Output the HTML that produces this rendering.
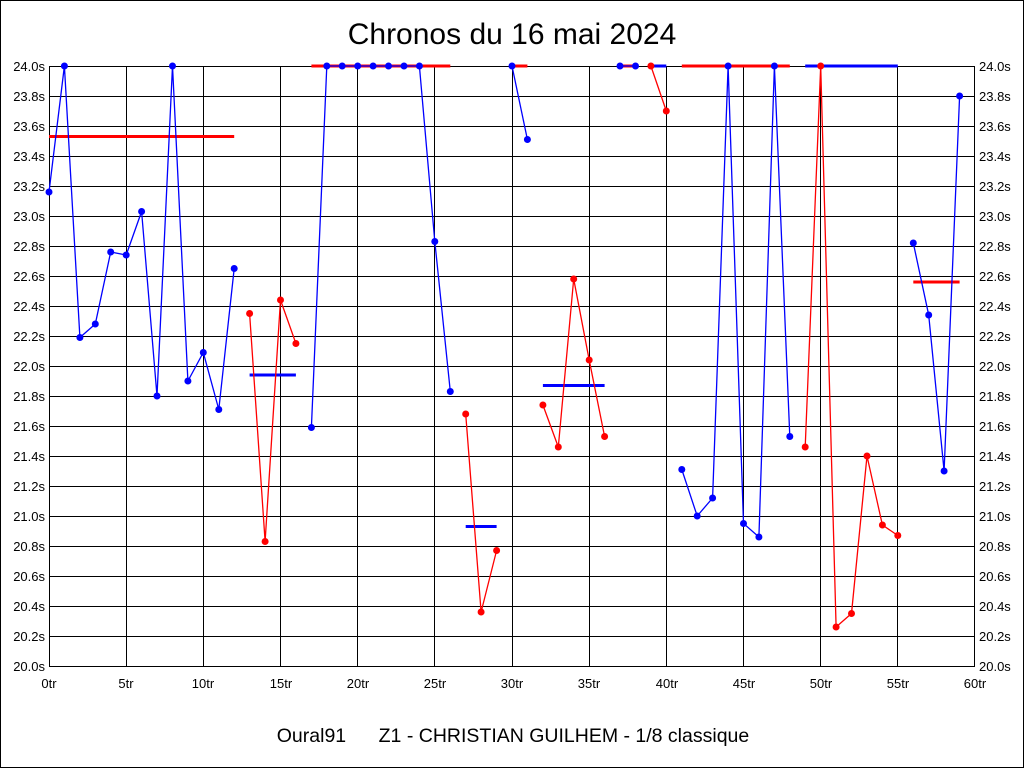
<!DOCTYPE html>
<html><head><meta charset="utf-8"><style>
html,body{margin:0;padding:0;background:#fff}
svg{display:block}
text{font-family:"Liberation Sans",sans-serif;fill:#000}
</style></head><body>
<svg width="1024" height="768" viewBox="0 0 1024 768">
<rect x="0.5" y="0.5" width="1023" height="767" fill="#fff" stroke="#000"/>
<text x="512" y="44" font-size="30" text-anchor="middle">Chronos du 16 mai 2024</text>
<g stroke="#000" stroke-width="1">
<path d="M49 96.5H975M49 126.5H975M49 156.5H975M49 186.5H975M49 216.5H975M49 246.5H975M49 276.5H975M49 306.5H975M49 336.5H975M49 366.5H975M49 396.5H975M49 426.5H975M49 456.5H975M49 486.5H975M49 516.5H975M49 546.5H975M49 576.5H975M49 606.5H975M49 636.5H975"/>
<path d="M126.5 66V666M203.5 66V666M280.5 66V666M357.5 66V666M434.5 66V666M512.5 66V666M589.5 66V666M666.5 66V666M743.5 66V666M820.5 66V666M897.5 66V666"/>
<rect x="49.5" y="66.5" width="925" height="600" fill="none"/>
</g>
<g font-size="13" text-anchor="end">
<text x="45" y="71">24.0s</text><text x="45" y="101">23.8s</text><text x="45" y="131">23.6s</text><text x="45" y="161">23.4s</text><text x="45" y="191">23.2s</text><text x="45" y="221">23.0s</text><text x="45" y="251">22.8s</text><text x="45" y="281">22.6s</text><text x="45" y="311">22.4s</text><text x="45" y="341">22.2s</text><text x="45" y="371">22.0s</text><text x="45" y="401">21.8s</text><text x="45" y="431">21.6s</text><text x="45" y="461">21.4s</text><text x="45" y="491">21.2s</text><text x="45" y="521">21.0s</text><text x="45" y="551">20.8s</text><text x="45" y="581">20.6s</text><text x="45" y="611">20.4s</text><text x="45" y="641">20.2s</text><text x="45" y="671">20.0s</text>
</g>
<g font-size="13" text-anchor="start">
<text x="979" y="71">24.0s</text><text x="979" y="101">23.8s</text><text x="979" y="131">23.6s</text><text x="979" y="161">23.4s</text><text x="979" y="191">23.2s</text><text x="979" y="221">23.0s</text><text x="979" y="251">22.8s</text><text x="979" y="281">22.6s</text><text x="979" y="311">22.4s</text><text x="979" y="341">22.2s</text><text x="979" y="371">22.0s</text><text x="979" y="401">21.8s</text><text x="979" y="431">21.6s</text><text x="979" y="461">21.4s</text><text x="979" y="491">21.2s</text><text x="979" y="521">21.0s</text><text x="979" y="551">20.8s</text><text x="979" y="581">20.6s</text><text x="979" y="611">20.4s</text><text x="979" y="641">20.2s</text><text x="979" y="671">20.0s</text>
</g>
<g font-size="13" text-anchor="middle">
<text x="49" y="688">0tr</text><text x="126" y="688">5tr</text><text x="203" y="688">10tr</text><text x="281" y="688">15tr</text><text x="358" y="688">20tr</text><text x="435" y="688">25tr</text><text x="512" y="688">30tr</text><text x="589" y="688">35tr</text><text x="667" y="688">40tr</text><text x="744" y="688">45tr</text><text x="821" y="688">50tr</text><text x="898" y="688">55tr</text><text x="975" y="688">60tr</text>
</g>
<text x="513" y="742" font-size="19.5" text-anchor="middle" xml:space="preserve">Oural91      Z1 - CHRISTIAN GUILHEM - 1/8 classique</text>
<g stroke-width="3">
<path stroke="#f00" d="M49 136.5H234.2"/>
<path stroke="#00f" d="M249.6 375H295.9"/>
<path stroke="#f00" d="M311.4 66H450.3"/>
<path stroke="#00f" d="M465.7 526.5H496.6"/>
<path stroke="#f00" d="M512 66H527.4"/>
<path stroke="#00f" d="M542.9 385.5H604.6"/>
<path stroke="#f00" d="M620 66H635.5"/>
<path stroke="#00f" d="M650.9 66H666.3"/>
<path stroke="#f00" d="M681.8 66H789.8"/>
<path stroke="#00f" d="M805.2 66H897.8"/>
<path stroke="#f00" d="M913.3 282H959.6"/>
</g>
<g fill="none" stroke-width="1.3">
<polyline stroke="#00f" points="49,192 64.4,66 79.9,337.5 95.3,324 110.7,252 126.2,255 141.6,211.5 157,396 172.5,66 187.9,381 203.3,352.5 218.8,409.5 234.2,268.5"/>
<polyline stroke="#f00" points="249.6,313.5 265.1,541.5 280.5,300 295.9,343.5"/>
<polyline stroke="#00f" points="311.4,427.5 326.8,66 342.2,66 357.7,66 373.1,66 388.5,66 404,66 419.4,66 434.8,241.5 450.3,391.5"/>
<polyline stroke="#f00" points="465.7,414 481.1,612 496.6,550.5"/>
<polyline stroke="#00f" points="512,66 527.4,139.5"/>
<polyline stroke="#f00" points="542.9,405 558.3,447 573.7,279 589.2,360 604.6,436.5"/>
<polyline stroke="#00f" points="620,66 635.5,66"/>
<polyline stroke="#f00" points="650.9,66 666.3,111"/>
<polyline stroke="#00f" points="681.8,469.5 697.2,516 712.6,498 728.1,66 743.5,523.5 758.9,537 774.4,66 789.8,436.5"/>
<polyline stroke="#f00" points="805.2,447 820.7,66 836.1,627 851.5,613.5 867,456 882.4,525 897.8,535.5"/>
<polyline stroke="#00f" points="913.3,243 928.7,315 944.1,471 959.6,96"/>
</g>
<g fill="#00f">
<circle cx="49" cy="192" r="3.5"/><circle cx="64.4" cy="66" r="3.5"/><circle cx="79.9" cy="337.5" r="3.5"/><circle cx="95.3" cy="324" r="3.5"/><circle cx="110.7" cy="252" r="3.5"/><circle cx="126.2" cy="255" r="3.5"/><circle cx="141.6" cy="211.5" r="3.5"/><circle cx="157" cy="396" r="3.5"/><circle cx="172.5" cy="66" r="3.5"/><circle cx="187.9" cy="381" r="3.5"/><circle cx="203.3" cy="352.5" r="3.5"/><circle cx="218.8" cy="409.5" r="3.5"/><circle cx="234.2" cy="268.5" r="3.5"/>
<circle cx="311.4" cy="427.5" r="3.5"/><circle cx="326.8" cy="66" r="3.5"/><circle cx="342.2" cy="66" r="3.5"/><circle cx="357.7" cy="66" r="3.5"/><circle cx="373.1" cy="66" r="3.5"/><circle cx="388.5" cy="66" r="3.5"/><circle cx="404" cy="66" r="3.5"/><circle cx="419.4" cy="66" r="3.5"/><circle cx="434.8" cy="241.5" r="3.5"/><circle cx="450.3" cy="391.5" r="3.5"/>
<circle cx="512" cy="66" r="3.5"/><circle cx="527.4" cy="139.5" r="3.5"/>
<circle cx="620" cy="66" r="3.5"/><circle cx="635.5" cy="66" r="3.5"/>
<circle cx="681.8" cy="469.5" r="3.5"/><circle cx="697.2" cy="516" r="3.5"/><circle cx="712.6" cy="498" r="3.5"/><circle cx="728.1" cy="66" r="3.5"/><circle cx="743.5" cy="523.5" r="3.5"/><circle cx="758.9" cy="537" r="3.5"/><circle cx="774.4" cy="66" r="3.5"/><circle cx="789.8" cy="436.5" r="3.5"/>
<circle cx="913.3" cy="243" r="3.5"/><circle cx="928.7" cy="315" r="3.5"/><circle cx="944.1" cy="471" r="3.5"/><circle cx="959.6" cy="96" r="3.5"/>
</g>
<g fill="#f00">
<circle cx="249.6" cy="313.5" r="3.5"/><circle cx="265.1" cy="541.5" r="3.5"/><circle cx="280.5" cy="300" r="3.5"/><circle cx="295.9" cy="343.5" r="3.5"/>
<circle cx="465.7" cy="414" r="3.5"/><circle cx="481.1" cy="612" r="3.5"/><circle cx="496.6" cy="550.5" r="3.5"/>
<circle cx="542.9" cy="405" r="3.5"/><circle cx="558.3" cy="447" r="3.5"/><circle cx="573.7" cy="279" r="3.5"/><circle cx="589.2" cy="360" r="3.5"/><circle cx="604.6" cy="436.5" r="3.5"/>
<circle cx="650.9" cy="66" r="3.5"/><circle cx="666.3" cy="111" r="3.5"/>
<circle cx="805.2" cy="447" r="3.5"/><circle cx="820.7" cy="66" r="3.5"/><circle cx="836.1" cy="627" r="3.5"/><circle cx="851.5" cy="613.5" r="3.5"/><circle cx="867" cy="456" r="3.5"/><circle cx="882.4" cy="525" r="3.5"/><circle cx="897.8" cy="535.5" r="3.5"/>
</g>
</svg>
</body></html>
